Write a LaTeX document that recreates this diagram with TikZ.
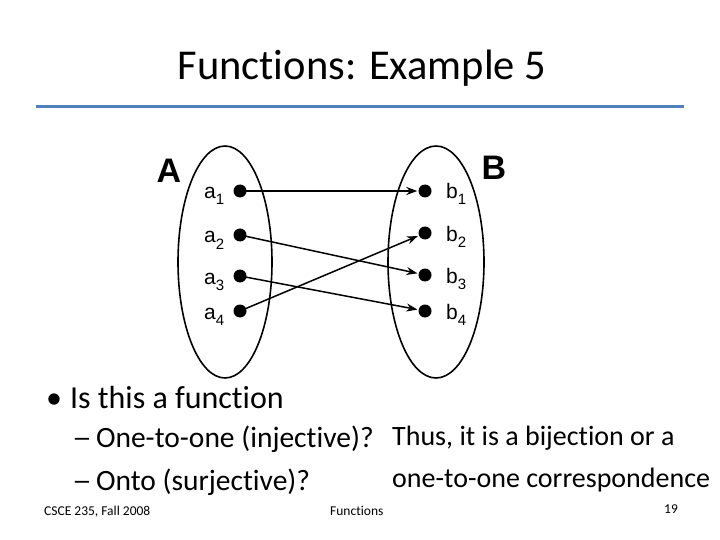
\documentclass[tikz,border=0pt]{standalone}
\usepackage{fontspec}
\setmainfont[Ligatures={NoCommon}]{Carlito}
\newfontfamily\arialf{Liberation Sans}
\usetikzlibrary{arrows.meta}
\definecolor{rule}{RGB}{79,129,189}
\newcommand{\subn}[1]{\raisebox{-6pt}{\fontsize{15}{15}\selectfont #1}}
\newcommand{\longdash}{\scalebox{1.35}[1]{\textendash}}
\tikzset{
  setell/.style={draw=black, line width=1.6pt},
  pt/.style={circle, fill=black, inner sep=0pt, minimum size=13pt},
  elab/.style={font=\arialf\fontsize{21}{21}\selectfont, inner sep=0pt, anchor=base west},
  setlab/.style={font=\arialf\bfseries\fontsize{34}{34}\selectfont, inner sep=0pt},
  maparrow/.style={line width=1.5pt, -{Stealth[length=11pt,width=8pt]}, shorten >=1pt},
  body/.style={font=\fontsize{32}{32}\selectfont, anchor=base west, inner sep=0pt},
  sub/.style={font=\fontsize{29.5}{29.5}\selectfont, anchor=base west, inner sep=0pt},
  note/.style={font=\fontsize{28}{28}\selectfont, anchor=base west, inner sep=0pt},
  foot/.style={font=\fontsize{13.5}{13.5}\selectfont, anchor=base west, inner sep=0pt}
}
\begin{document}
\begin{tikzpicture}[x=1pt,y=-1pt]
\useasboundingbox (0,0) rectangle (720,540);
\node[font=\fontsize{42.5}{42.5}\selectfont, anchor=base, inner sep=0pt] (title) at (362,80) {Functions: Example 5};
\draw[rule, line width=3pt] (36,107) -- (684,107);
% sets
\draw[setell] (225,262) ellipse [x radius=47, y radius=116];
\draw[setell] (436,262) ellipse [x radius=48, y radius=116];
\node[setlab] (A) at (169,171) {A};
\node[setlab] (B) at (494,168) {B};
% points
\node[pt] (a1) at (240,191) {};
\node[pt] (a2) at (240,235) {};
\node[pt] (a3) at (240,276) {};
\node[pt] (a4) at (240,311) {};
\node[pt] (b1) at (425,191) {};
\node[pt] (b2) at (425,233) {};
\node[pt] (b3) at (425,275) {};
\node[pt] (b4) at (425,311) {};
\node[elab] (la1) at (204,199) {a\subn{1}};
\node[elab] (la2) at (204,243) {a\subn{2}};
\node[elab] (la3) at (204,284) {a\subn{3}};
\node[elab] (la4) at (204,319) {a\subn{4}};
\node[elab] (lb1) at (446,199) {b\subn{1}};
\node[elab] (lb2) at (446,241) {b\subn{2}};
\node[elab] (lb3) at (446,283) {b\subn{3}};
\node[elab] (lb4) at (446,319) {b\subn{4}};
% arrows
\draw[maparrow] (a1.center) -- (b1);
\draw[maparrow] (a2.center) -- (b3);
\draw[maparrow] (a3.center) -- (b4);
\draw[maparrow] (a4.center) -- (b2);
% text
\node[body] (q) at (46,408) {\textbullet\hspace{8pt}Is this a function};
\node[sub] (q1) at (72,447) {\longdash\hspace{4pt}One-to-one (injective)?};
\node[sub] (q2) at (72,490) {\longdash\hspace{4pt}Onto (surjective)?};
\node[note] (t1) at (392,445) {Thus, it is a bijection or a};
\node[note] (t2) at (392,487) {one-to-one correspondence};
\node[foot] (f1) at (44,515) {CSCE 235, Fall 2008};
\node[foot] (f2) at (330,515) {Functions};
\node[foot] (f3) at (664,513) {19};
\end{tikzpicture}
\end{document}
